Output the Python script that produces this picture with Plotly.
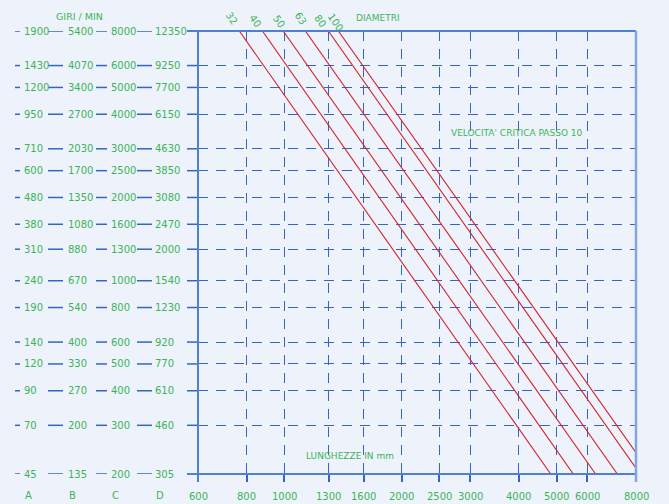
import numpy as np
import plotly.graph_objects as go

# ---- data ----
rpm_a = [1900, 1430, 1200, 950, 710, 600, 480, 380, 310, 240, 190, 140, 120, 90, 70, 45]
rpm_b = [5400, 4070, 3400, 2700, 2030, 1700, 1350, 1080, 880, 670, 540, 400, 330, 270, 200, 135]
rpm_c = [8000, 6000, 5000, 4000, 3000, 2500, 2000, 1600, 1300, 1000, 800, 600, 500, 400, 300, 200]
rpm_d = [12350, 9250, 7700, 6150, 4630, 3850, 3080, 2470, 2000, 1540, 1230, 920, 770, 610, 460, 305]
column_names = ["A", "B", "C", "D"]
lengths = [600, 800, 1000, 1300, 1600, 2000, 2500, 3000, 4000, 5000, 6000, 8000]
diameters = [32, 40, 50, 63, 80, 100]
# red lines: start and end points (length in mm, rpm on scale C)
line_start_len = [766, 878, 993, 1132, 1297, 1376]
line_start_rpm = [8000, 8000, 8000, 8000, 8000, 8000]
line_end_len = [4830, 5520, 6300, 7164, 8000, 8000]
line_end_rpm = [200, 200, 200, 200, 210, 239]

# ---- style ----
W, H = 669, 504
L, R, T, B = 198, 636, 31, 474
PW, PH = R - L, B - T
GREEN = "#3cb35a"
BLUE = "#3266c2"
FRAME = "#4d7fd2"
RED = "#d3202a"
BG = "#eef3fb"
FONT = "DejaVu Sans"


def px(xp):
    return (xp - L) / PW


def py(yp):
    return (B - yp) / PH


fig = go.Figure()

for d, x0, y0, x1, y1 in zip(diameters, line_start_len, line_start_rpm, line_end_len, line_end_rpm):
    fig.add_trace(go.Scatter(x=[x0, x1], y=[y0, y1], mode="lines",
                             line=dict(color=RED, width=1.1), name=str(d),
                             hoverinfo="skip", showlegend=False))

annotations = []
shapes = []


def ann(text, xp, yp, size=9, angle=0, xanchor="center"):
    annotations.append(dict(text=text, xref="paper", yref="paper", x=px(xp), y=py(yp),
                            xanchor=xanchor, yanchor="middle", showarrow=False,
                            textangle=angle, font=dict(family=FONT, size=size, color=GREEN)))


# left scale labels
col_x = [22, 66, 109, 153]
cols = [rpm_a, rpm_b, rpm_c, rpm_d]
for i, yv in enumerate(rpm_c):
    for cx, col in zip(col_x, cols):
        annotations.append(dict(text=str(col[i]), xref="paper", yref="y", x=px(cx),
                                y=np.log10(yv), xanchor="left", yanchor="middle",
                                showarrow=False,
                                font=dict(family=FONT, size=10, color=GREEN)))
    for a, b in [(15, 20), (48, 63), (96, 107), (137, 152), (187, 198)]:
        shapes.append(dict(type="line", xref="paper", yref="y", x0=px(a), x1=px(b),
                           y0=yv, y1=yv, line=dict(color=BLUE, width=1.5)))

# column letters
for cx, name in zip(col_x, column_names):
    ann(name, cx + 1, 496, size=10, xanchor="left")

# x tick labels
for v in lengths:
    annotations.append(dict(text=str(v), xref="x", yref="paper", x=np.log10(v), y=0,
                            yshift=-22, xanchor="center", yanchor="middle", showarrow=False,
                            font=dict(family=FONT, size=10, color=GREEN)))

# diameter labels
diam_pos = [(231.7, 18.7), (255.8, 21.2), (279.3, 21.2), (300.5, 18.8), (320.8, 21.2), (335.8, 22.5)]
for d, (xp, yp) in zip(diameters, diam_pos):
    ann(str(d), xp, yp, size=10, angle=55)

ann("GIRI / MIN", 79, 16, size=9.5)
ann("DIAMETRI", 378, 18, size=9)
ann("VELOCITA' CRITICA PASSO 10", 517, 133, size=9)
ann("LUNGHEZZE IN mm", 350, 456, size=9)

# frame
shapes.append(dict(type="line", xref="paper", yref="paper", x0=px(187), x1=1, y0=1, y1=1,
                   line=dict(color=FRAME, width=2)))
shapes.append(dict(type="line", xref="paper", yref="paper", x0=px(187), x1=1, y0=0, y1=0,
                   line=dict(color=FRAME, width=2)))
shapes.append(dict(type="line", xref="paper", yref="paper", x0=0, x1=0, y0=1, y1=py(482),
                   line=dict(color=FRAME, width=2)))
shapes.append(dict(type="line", xref="paper", yref="paper", x0=1, x1=1, y0=1, y1=py(482),
                   line=dict(color="#84a5de", width=2.5)))

fig.update_layout(
    width=W, height=H,
    margin=dict(l=L, r=W - R, t=T, b=H - B, pad=0),
    paper_bgcolor=BG, plot_bgcolor=BG,
    showlegend=False,
    annotations=annotations, shapes=shapes,
    xaxis=dict(type="log", range=[np.log10(lengths[0]), np.log10(lengths[-1])],
               tickvals=lengths, showticklabels=False, ticks="outside", ticklen=7,
               tickcolor=BLUE, tickwidth=1.5, showline=False, zeroline=False,
               showgrid=True, gridcolor=BLUE, gridwidth=1.3, griddash="10px,8px"),
    yaxis=dict(type="log", range=[np.log10(rpm_c[-1]), np.log10(rpm_c[0])],
               tickvals=rpm_c[1:-1], showticklabels=False, ticks="", showline=False,
               zeroline=False, showgrid=True, gridcolor=BLUE, gridwidth=1.3,
               griddash="10px,8px"),
)

fig.write_html("out.html", config={"displayModeBar": False},
               post_script="document.body.style.margin='0px';document.body.style.background='#eef3fb';")
